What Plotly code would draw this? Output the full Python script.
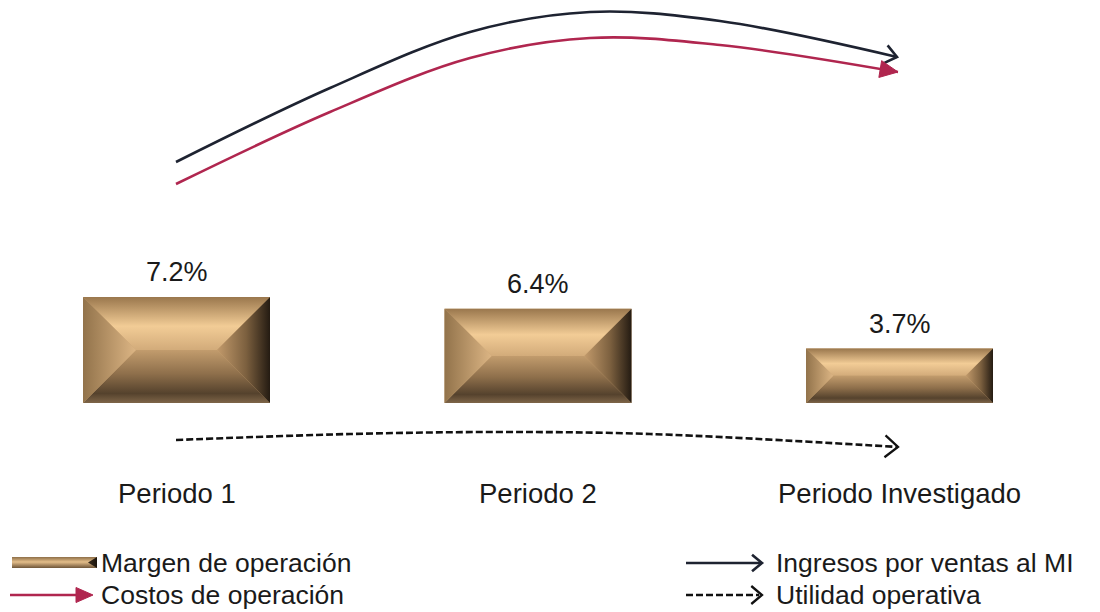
import math
import plotly.graph_objects as go

# ---------------- data ----------------
categories = ["Periodo 1", "Periodo 2", "Periodo Investigado"]
margen = [7.2, 6.4, 3.7]
margen_labels = ["7.2%", "6.4%", "3.7%"]

# schematic trend arrows (overlay axis, pixel-like units)
ingresos_x = [176, 330, 470, 590, 720, 897]
ingresos_y = [162, 88, 32, 12, 21, 57]
costos_x = [176, 330, 470, 590, 720, 898]
costos_y = [184, 112, 58, 38, 45, 72]
utilidad_x = [176, 350, 500, 650, 898]
utilidad_y = [440, 434, 432, 434, 447]

legend_names = ["Margen de operación", "Costos de operación",
                "Ingresos por ventas al MI", "Utilidad operativa"]

# ---------------- styles ----------------
FONT = "Liberation Sans, Arial, sans-serif"
TXT = "#1a1a1a"
NAVY = "#1e2331"
CRIMSON = "#b0264f"
W, H = 1100, 612
XPX = 361.5      # px per category step
X0PX = 176.5     # px of first category
YPX = 14.72      # px per percent
Y0PX = 403       # px of zero line
BAR_W = 187 / XPX

x_min = -X0PX / XPX
x_max = x_min + W / XPX
y_max = Y0PX / YPX
y_min = -(H - Y0PX) / YPX

fig = go.Figure()

# base bars
fig.add_trace(go.Bar(x=list(range(len(categories))), y=margen, width=BAR_W,
                     marker=dict(color="#c8a272", line=dict(width=0)),
                     hoverinfo="skip", xaxis="x", yaxis="y"))

TOP_CS = [[0, "#9a774d"], [0.55, "#f2cc96"], [1, "#d2ab7a"]]
BOT_CS = [[0, "#c29c6d"], [0.45, "#8e6f4b"], [0.82, "#55422d"], [1, "#7e6548"]]
LEFT_CS = [[0, "#92734b"], [1, "#dcb584"]]
RIGHT_CS = [[0, "#c29a6b"], [0.55, "#7c603f"], [1, "#241b12"]]


def poly(xs, ys, grad, xa="x", ya="y"):
    fig.add_trace(go.Scatter(x=xs + [xs[0]], y=ys + [ys[0]], mode="lines",
                             fill="toself", fillgradient=grad,
                             line=dict(width=0), hoverinfo="skip",
                             xaxis=xa, yaxis=ya))


for i, v in enumerate(margen):
    xl, xr = i - BAR_W / 2, i + BAR_W / 2
    top, mid = v, v / 2
    d = (v / 2) * YPX / XPX
    poly([xl, xr, xr - d, xl + d], [top, top, mid, mid],
         dict(type="vertical", colorscale=TOP_CS, start=top, stop=mid))
    poly([xl, xr, xr - d, xl + d], [0, 0, mid, mid],
         dict(type="vertical", colorscale=BOT_CS, start=mid, stop=0))
    poly([xl, xl + d, xl], [top, mid, 0],
         dict(type="horizontal", colorscale=LEFT_CS, start=xl, stop=xl + d))
    poly([xr, xr - d, xr], [top, mid, 0],
         dict(type="horizontal", colorscale=RIGHT_CS, start=xr - d, stop=xr))


# ---------------- arrows (overlay axis) ----------------
def line(xs, ys, color, dash="solid", width=2.6, shape="spline"):
    fig.add_trace(go.Scatter(x=xs, y=ys, mode="lines",
                             line=dict(color=color, width=width, dash=dash,
                                       shape=shape, smoothing=1.0),
                             hoverinfo="skip", xaxis="x2", yaxis="y2"))


def chevron(tx, ty, fx, fy, color, length=15, half=40, width=2.6):
    a = math.atan2(ty - fy, tx - fx)
    xs, ys = [], []
    for s in (1, -1):
        b = a + s * math.radians(half)
        xs.append(tx - length * math.cos(b))
        ys.append(ty - length * math.sin(b))
    fig.add_trace(go.Scatter(x=[xs[0], tx, xs[1]], y=[ys[0], ty, ys[1]],
                             mode="lines", line=dict(color=color, width=width),
                             hoverinfo="skip", xaxis="x2", yaxis="y2"))


def tri_head(tx, ty, fx, fy, color, length=18, halfw=8):
    a = math.atan2(ty - fy, tx - fx)
    bx, by = tx - length * math.cos(a), ty - length * math.sin(a)
    px, py = -math.sin(a), math.cos(a)
    xs = [tx, bx + halfw * px, bx - halfw * px, tx]
    ys = [ty, by + halfw * py, by - halfw * py, ty]
    fig.add_trace(go.Scatter(x=xs, y=ys, mode="lines", fill="toself",
                             fillcolor=color, line=dict(color=color, width=1),
                             hoverinfo="skip", xaxis="x2", yaxis="y2"))


line(ingresos_x, ingresos_y, NAVY)
chevron(ingresos_x[-1], ingresos_y[-1], ingresos_x[-1] - 30, ingresos_y[-1] - 7, NAVY,
        length=15, half=38)

line(costos_x, costos_y, CRIMSON)
tri_head(costos_x[-1], costos_y[-1], costos_x[-1] - 30, costos_y[-1] - 5, CRIMSON,
         length=18, halfw=8.5)

line(utilidad_x, utilidad_y, "#111111", dash="7px,3px", width=2.6)
chevron(utilidad_x[-1], utilidad_y[-1], utilidad_x[-1] - 30, utilidad_y[-1] - 1.5, "#111111",
        length=17, half=40, width=2.3)

# ---------------- legend (manual) ----------------
LG_Y1, LG_Y2 = 563, 595
lx0, lx1, ly0, ly1 = 12, 97, LG_Y1 - 6, LG_Y1 + 5
poly([lx0, lx1, lx1, lx0], [ly0, ly0, ly1, ly1],
     dict(type="vertical", colorscale=[[0, "#8e6f48"], [0.45, "#e4be8a"], [1, "#6e5538"]],
          start=ly0, stop=ly1), xa="x2", ya="y2")
poly([lx1 - 9, lx1, lx1], [(ly0 + ly1) / 2, ly0, ly1],
     dict(type="horizontal", colorscale=[[0, "#3a2c1c"], [1, "#1a130c"]],
          start=lx1 - 9, stop=lx1), xa="x2", ya="y2")

line([10, 80], [LG_Y2, LG_Y2], CRIMSON, shape="linear")
tri_head(93, LG_Y2, 10, LG_Y2, CRIMSON, length=17, halfw=7.5)
line([686, 761], [LG_Y1, LG_Y1], NAVY, shape="linear")
chevron(762, LG_Y1, 686, LG_Y1, NAVY, length=13, half=40)
line([686, 759], [LG_Y2, LG_Y2], "#111111", dash="7px,3px", width=2.5, shape="linear")
chevron(762, LG_Y2, 686, LG_Y2, "#111111", length=14, half=40, width=2.3)

annotations = []
for i, (v, t) in enumerate(zip(margen, margen_labels)):
    annotations.append(dict(x=i, y=v, xref="x", yref="y", text=t, showarrow=False,
                            yanchor="middle", yshift=25,
                            font=dict(family=FONT, size=27, color=TXT)))
for i, c in enumerate(categories):
    annotations.append(dict(x=i, y=493, xref="x", yref="y2", text=c, showarrow=False,
                            yanchor="middle",
                            font=dict(family=FONT, size=27.5, color=TXT)))
legend_pos = [(100, LG_Y1), (100, LG_Y2), (775, LG_Y1), (775, LG_Y2)]
for name, (lx, ly) in zip(legend_names, legend_pos):
    annotations.append(dict(x=lx, y=ly, xref="x2", yref="y2", text=name, showarrow=False,
                            xanchor="left", yanchor="middle", borderpad=0,
                            font=dict(family=FONT, size=26.5, color=TXT)))

fig.update_layout(
    width=W, height=H,
    margin=dict(l=0, r=0, t=0, b=0),
    paper_bgcolor="white", plot_bgcolor="white",
    showlegend=False,
    xaxis=dict(range=[x_min, x_max], visible=False, fixedrange=True),
    yaxis=dict(range=[y_min, y_max], visible=False, fixedrange=True),
    xaxis2=dict(range=[0, W], visible=False, overlaying="x", anchor="y2"),
    yaxis2=dict(range=[H, 0], visible=False, overlaying="y", anchor="x2"),
    annotations=annotations,
)

fig.write_html("out.html")
